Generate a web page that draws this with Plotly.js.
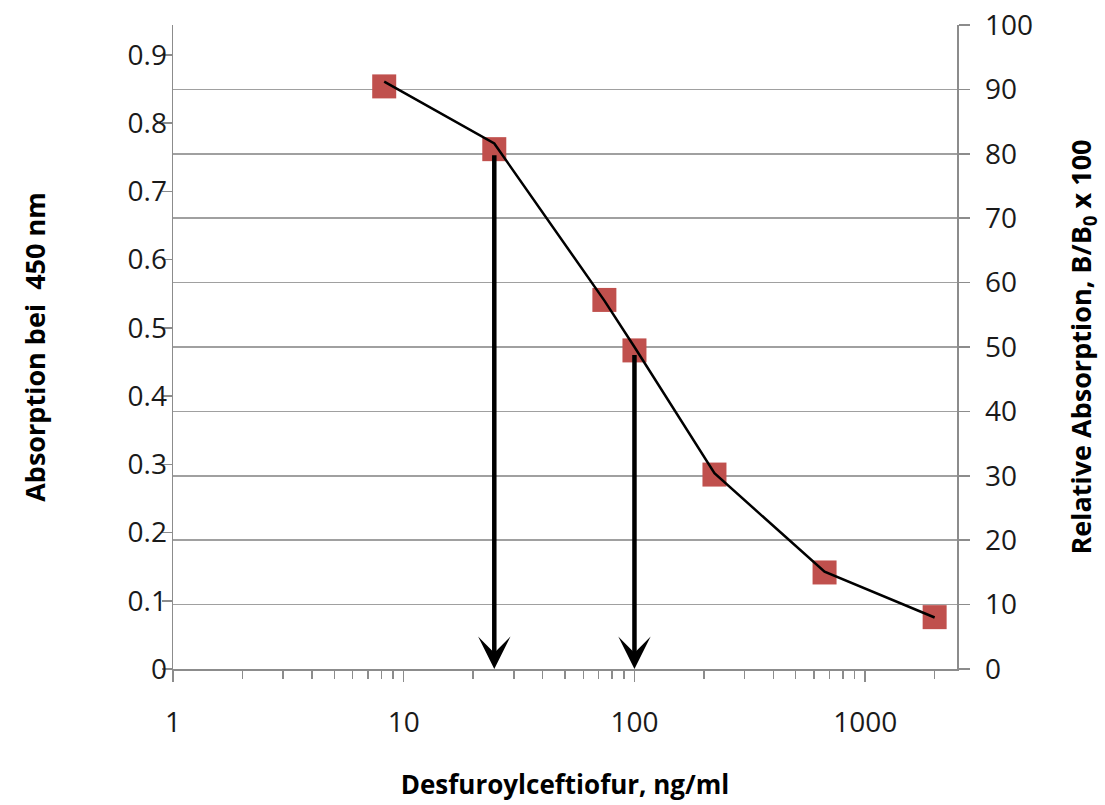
<!DOCTYPE html>
<html>
<head>
<meta charset="utf-8">
<script src="https://cdn.plot.ly/plotly-3.0.1.min.js"></script>
<style>html,body{margin:0;padding:0;background:#fff;}#chart{width:1105px;height:805px;}</style>
</head>
<body>
<div id="chart"></div>
<script>
// Concentrations (ng/ml)
const concentration = [8.23, 24.69, 74.07, 100, 222.2, 666.7, 2000];
// Measured absorbance at 450 nm (left axis)
const absorbance = [0.854, 0.762, 0.541, 0.467, 0.285, 0.1415, 0.076];
// Relative absorption B/B0 x 100 (right axis), curve
const relative = [91.2, 81.6, 57.2, 50.0, 30.4, 15.1, 8.0];
// Arrows marking read-off concentrations
const arrowX = [24.69, 100];
const arrowTop = [80, 49];
const yLeftTicks = [0, 0.1, 0.2, 0.3, 0.4, 0.5, 0.6, 0.7, 0.8, 0.9];
const yLeftTickText = ['0', '0.1', '0.2', '0.3', '0.4', '0.5', '0.6', '0.7', '0.8', '0.9'];

const font = 'Open Sans, Lato, sans-serif';
const axisGray = '#8c8c8c';

const traces = [
  {
    x: concentration, y: absorbance, type: 'scatter', mode: 'markers',
    marker: {symbol: 'square', size: 24, color: '#c0504d'},
    yaxis: 'y', showlegend: false, hoverinfo: 'x+y'
  },
  {
    x: concentration, y: relative, type: 'scatter', mode: 'lines',
    line: {color: '#000', width: 2.5},
    yaxis: 'y2', showlegend: false, hoverinfo: 'x+y'
  }
];

const annotations = arrowX.map((xv, i) => ({
  x: Math.log10(xv), y: 0, xref: 'x', yref: 'y2',
  ax: Math.log10(xv), ay: arrowTop[i], axref: 'x', ayref: 'y2',
  text: '', showarrow: true, arrowhead: 3, arrowsize: 1.2, arrowwidth: 4.5,
  arrowcolor: '#000', standoff: 0
}));

const layout = {
  width: 1105, height: 805,
  margin: {l: 173, r: 148, t: 25, b: 136},
  paper_bgcolor: '#fff', plot_bgcolor: '#fff',
  font: {family: font, color: '#1a1a1a'},
  showlegend: false,
  xaxis: {
    type: 'log', range: [0, Math.log10(2500)],
    dtick: 1, exponentformat: 'none',
    ticks: 'outside', ticklen: 11, tickwidth: 1.5, tickcolor: axisGray,
    minor: {dtick: 'D1', ticks: 'outside', ticklen: 8, tickwidth: 1.5, tickcolor: axisGray, showgrid: false},
    showgrid: false, zeroline: false,
    showline: true, linecolor: axisGray, linewidth: 1.5,
    tickfont: {size: 28, family: font, color: '#1a1a1a'},
    ticklabelstandoff: 17,
    title: {text: 'Desfuroylceftiofur, ng/ml', font: {size: 26, family: font, weight: 'bold', color: '#000'}, standoff: 36},
    automargin: false
  },
  yaxis: {
    range: [0, 0.944], tickvals: yLeftTicks, ticktext: yLeftTickText,
    ticks: 'outside', ticklen: 10, tickwidth: 1.5, tickcolor: axisGray,
    showgrid: false, zeroline: false,
    showline: true, linecolor: axisGray, linewidth: 1.5,
    tickfont: {size: 28, family: font, color: '#1a1a1a'},
    ticklabelstandoff: -11,
    title: {text: 'Absorption bei  450 nm', font: {size: 27, family: font, weight: 'bold', color: '#000'}, standoff: 74},
    automargin: false
  },
  yaxis2: {
    overlaying: 'y', side: 'right', range: [0, 100], dtick: 10, tick0: 0,
    ticks: 'outside', ticklen: 11, tickwidth: 1.5, tickcolor: axisGray,
    showgrid: true, gridcolor: '#a0a0a0', gridwidth: 1.5, zeroline: false,
    showline: true, linecolor: axisGray, linewidth: 1.5,
    tickfont: {size: 28, family: font, color: '#1a1a1a'},
    ticklabelstandoff: 10,
    title: {text: 'Relative Absorption, B/B<sub>0</sub> x 100', font: {size: 27, family: font, weight: 'bold', color: '#000'}, standoff: 40},
    automargin: false
  },
  annotations: annotations
};

Plotly.newPlot('chart', traces, layout, {displayModeBar: false, staticPlot: true});
</script>
</body>
</html>
